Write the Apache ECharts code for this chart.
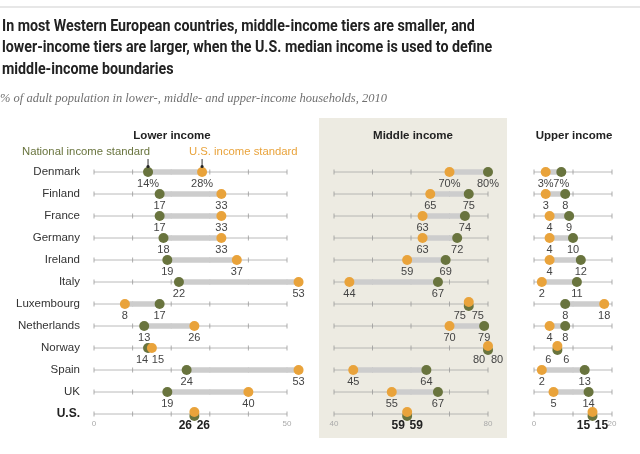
<!DOCTYPE html>
<html><head><meta charset="utf-8">
<script src="https://cdn.jsdelivr.net/npm/echarts@6/dist/echarts.min.js"></script>
<style>html,body{margin:0;padding:0;background:#fff}#c{width:640px;height:454px}</style>
</head><body><div id="c"></div>
<script>
const countries = ['Denmark','Finland','France','Germany','Ireland','Italy','Luxembourg','Netherlands','Norway','Spain','UK','U.S.'];
const lowerNational = [14,17,17,18,19,22,17,13,14,24,19,26];
const lowerUS       = [28,33,33,33,37,53,8,26,15,53,40,26];
const middleNational= [80,75,74,72,69,67,75,79,80,64,67,59];
const middleUS      = [70,65,63,63,59,44,75,70,80,45,55,59];
const upperNational = [7,8,9,10,12,11,8,8,6,13,14,15];
const upperUS       = [3,3,4,4,4,2,18,4,6,2,5,15];
const lowerTicks  = [0,10,20,30,40,50];
const middleTicks = [40,50,60,70,80];
const upperTicks  = [0,10,20];
const panelTitles = ['Lower income','Middle income','Upper income'];
const titleText = 'In most Western European countries, middle-income tiers are smaller, and\nlower-income tiers are larger, when the U.S. median income is used to define\nmiddle-income boundaries';
const subtitleText = '% of adult population in lower-, middle- and upper-income households, 2010';

const GREEN = '#69743e', ORANGE = '#e9a33b', BAR = '#cdcdcd';
const FONT = 'Liberation Sans, Arial, sans-serif';

const panels = [
  {nat: lowerNational, us: lowerUS, ticks: lowerTicks, left: 94, width: 193},
  {nat: middleNational, us: middleUS, ticks: middleTicks, left: 334, width: 154},
  {nat: upperNational, us: upperUS, ticks: upperTicks, left: 534, width: 78}
];

const last = countries.length - 1;
function labelFor(i, v, isNat, other) {
  const close = Math.abs(v - other) <= 2;
  let off = [0, 0];
  if (close) {
    if (v === other) off = [isNat ? -9 : 9, isNat ? -2 : 2];
    else off = [(v < other ? -1 : 1) * 6, 0];
  }
  return {
    formatter: (i === 0 ? v + '%' : String(v)),
    offset: off,
    fontWeight: i === last ? 'bold' : 'normal',
    color: i === last ? '#222' : '#444',
    fontSize: i === last ? 12 : 11
  };
}

const grid = [], xAxis = [], yAxis = [], series = [];
panels.forEach((p, k) => {
  grid.push({left: p.left, width: p.width, top: 172, height: 242, containLabel: false});
  const tmin = p.ticks[0], tmax = p.ticks[p.ticks.length - 1];
  xAxis.push({
    type: 'value', gridIndex: k, min: tmin, max: tmax, interval: tmax - tmin,
    axisLine: {show: false}, axisTick: {show: false}, splitLine: {show: false},
    axisLabel: {color: '#aaa', fontSize: 8, margin: 6, fontFamily: FONT}
  });
  yAxis.push({
    type: 'category', gridIndex: k, data: countries, inverse: true, boundaryGap: false,
    axisLine: {show: false}, axisTick: {show: false}, splitLine: {show: false},
    axisLabel: k === 0 ? {
      show: true, margin: 14, fontSize: 11.5, color: '#333', fontFamily: FONT,
      formatter: v => v === 'U.S.' ? '{b|' + v + '}' : v,
      rich: {b: {fontWeight: 'bold', fontSize: 12, color: '#222', fontFamily: FONT}}
    } : {show: false}
  });
  series.push({
    type: 'custom', xAxisIndex: k, yAxisIndex: k, clip: false, silent: true, z: 1,
    data: countries.map((c, i) => [tmin, i]),
    renderItem: (params, api) => {
      const i = api.value(1);
      const a = api.coord([tmin, i]), b = api.coord([tmax, i]);
      const children = [{type: 'line', shape: {x1: a[0], y1: a[1], x2: b[0], y2: b[1]}, style: {stroke: '#a8a8a8', lineWidth: 0.8}}];
      p.ticks.forEach(t => {
        const c = api.coord([t, i]);
        children.push({type: 'line', shape: {x1: c[0], y1: c[1] - 2.5, x2: c[0], y2: c[1] + 2.5}, style: {stroke: '#999', lineWidth: 0.8}});
      });
      return {type: 'group', children};
    }
  });
  series.push({
    type: 'custom', xAxisIndex: k, yAxisIndex: k, clip: false, silent: true, z: 2,
    data: countries.map((c, i) => [p.nat[i], p.us[i], i]),
    encode: {x: [0, 1], y: 2},
    renderItem: (params, api) => {
      const a = api.coord([api.value(0), api.value(2)]);
      const b = api.coord([api.value(1), api.value(2)]);
      return {type: 'line', shape: {x1: a[0], y1: a[1], x2: b[0], y2: b[1]}, style: {stroke: BAR, lineWidth: 5.5}};
    }
  });
  series.push({
    type: 'scatter', xAxisIndex: k, yAxisIndex: k, clip: false, z: 3, symbolSize: 10,
    itemStyle: {color: GREEN, opacity: 1},
    label: {show: true, position: 'bottom', distance: 1, fontFamily: FONT},
    data: p.nat.map((v, i) => ({
      value: [v, i],
      symbolOffset: v === p.us[i] ? [0, 2] : [0, 0],
      label: labelFor(i, v, true, p.us[i])
    }))
  });
  series.push({
    type: 'scatter', xAxisIndex: k, yAxisIndex: k, clip: false, z: 4, symbolSize: 10,
    itemStyle: {color: ORANGE, opacity: 1},
    label: {show: true, position: 'bottom', distance: 1, fontFamily: FONT},
    data: p.us.map((v, i) => ({
      value: [v, i],
      symbolOffset: v === p.nat[i] ? [0, -2] : [0, 0],
      label: labelFor(i, v, false, p.nat[i])
    }))
  });
});

const chart = echarts.init(document.getElementById('c'), null, {renderer: 'canvas'});
chart.setOption({
  animation: false,
  backgroundColor: '#fff',
  grid, xAxis, yAxis, series,
  title: [
    {text: subtitleText, left: 0, top: 92, padding: 0, textStyle: {fontFamily: 'Georgia, "Liberation Serif", serif', fontStyle: 'italic', fontWeight: 'normal', fontSize: 12.5, color: '#707070'}},
    {text: panelTitles[0], left: 172, textAlign: 'center', top: 130, padding: 0, textStyle: {fontFamily: FONT, fontWeight: 'bold', fontSize: 11.5, color: '#222'}},
    {text: panelTitles[1], left: 413, textAlign: 'center', top: 130, padding: 0, textStyle: {fontFamily: FONT, fontWeight: 'bold', fontSize: 11.5, color: '#222'}},
    {text: panelTitles[2], left: 574, textAlign: 'center', top: 130, padding: 0, textStyle: {fontFamily: FONT, fontWeight: 'bold', fontSize: 11.5, color: '#222'}},
    {text: 'National income standard', left: 22, top: 146, padding: 0, textStyle: {fontFamily: FONT, fontWeight: 'normal', fontSize: 11.3, color: GREEN}},
    {text: 'U.S. income standard', left: 189, top: 146, padding: 0, textStyle: {fontFamily: FONT, fontWeight: 'normal', fontSize: 11.3, color: ORANGE}}
  ],
  graphic: [
    {type: 'rect', id: 'bg', z: -10, shape: {x: 319, y: 118, width: 188, height: 320}, style: {fill: '#edebe2'}},
    {type: 'line', id: 'top', shape: {x1: 0, y1: 7, x2: 640, y2: 7}, style: {stroke: '#cfcfcf', lineWidth: 1}},
    {type: 'text', id: 'title', x: 2, y: 16, scaleX: 0.89, originX: 0, originY: 0,
     style: {text: titleText, fontFamily: 'Roboto, "Liberation Sans", sans-serif', fontWeight: 'bold', fontSize: 16, lineHeight: 21.5, fill: '#222', verticalAlign: 'top'}}
  ]
});
const pn = chart.convertToPixel({gridIndex: 0}, [lowerNational[0], 0]);
const pu = chart.convertToPixel({gridIndex: 0}, [lowerUS[0], 0]);
chart.setOption({graphic: [
  {type: 'line', id: 'a1', z: 10, shape: {x1: pn[0], y1: pn[1] - 13, x2: pn[0], y2: pn[1] - 5}, style: {stroke: '#333', lineWidth: 1}},
  {type: 'line', id: 'a2', z: 10, shape: {x1: pu[0], y1: pu[1] - 13, x2: pu[0], y2: pu[1] - 5}, style: {stroke: '#333', lineWidth: 1}},
  {type: 'circle', id: 'c1', z: 10, shape: {cx: pn[0], cy: pn[1] - 5.5, r: 1.6}, style: {fill: '#222'}},
  {type: 'circle', id: 'c2', z: 10, shape: {cx: pu[0], cy: pu[1] - 5.5, r: 1.6}, style: {fill: '#222'}}
]});
</script></body></html>
